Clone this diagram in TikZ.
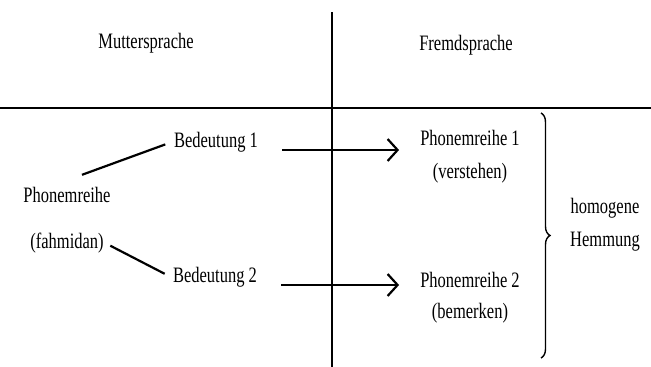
\documentclass[tikz,border=0pt]{standalone}
\usepackage{fontspec}
\setmainfont[FakeStretch=0.75]{Liberation Serif}
\usetikzlibrary{arrows.meta, positioning, decorations.pathreplacing}

\begin{document}
\begin{tikzpicture}[
x=1pt, y=-1pt,
every node/.style={font=\fontsize{22}{26}\selectfont, inner sep=2pt, text height=15pt, text depth=5pt},
link/.style={line width=2.2pt},
arrow/.style={-{Straight Barb[length=10pt, width=22pt]}, line width=2.2pt},
rule/.style={line width=2pt},
brace/.style={line width=1.4pt, decorate, decoration={brace, amplitude=9pt}}
]
\useasboundingbox (0,0) rectangle (651,367);
% table frame
\draw[rule] (0,108) -- (651,108);
\draw[line width=1.5pt] (332,12) -- (332,367);
% headings
\node (mutter) at (146,43) {Muttersprache};
\node (fremd) at (466,45) {Fremdsprache};
% left column
\node (phon) at (67,197) {Phonemreihe};
\node[below=22pt of phon] (fahm) {(fahmidan)};
\node (bed1) at (216,142) {Bedeutung 1};
\node (bed2) at (215,277) {Bedeutung 2};
% right column
\node (ph1) at (470,140) {Phonemreihe 1};
\node[below=9pt of ph1] (verst) {(verstehen)};
\node (ph2) at (470,282) {Phonemreihe 2};
\node[below=7pt of ph2] (bemerk) {(bemerken)};
\node (homog) at (605,208) {homogene};
\node[below=9pt of homog] (hemm) {Hemmung};
% connectors
\draw[link, shorten >=7pt] ([xshift=15pt, yshift=10pt]phon.north) -- (bed1.west);
\draw[link, shorten <=5pt, shorten >=7pt] (fahm.east) -- (bed2.west);
\draw[arrow, shorten <=22pt, shorten >=19pt] ([yshift=-3pt]bed1.base east) -- ([yshift=-3pt]bed1.base east -| ph1.west);
\draw[arrow, shorten <=22pt, shorten >=19pt] ([yshift=-3pt]bed2.base east) -- ([yshift=-3pt]bed2.base east -| ph2.west);
% brace
\coordinate (btop) at (541,113);
\coordinate (bbot) at (541,358);
\draw[brace] (btop) -- (bbot);
\end{tikzpicture}
\end{document}
